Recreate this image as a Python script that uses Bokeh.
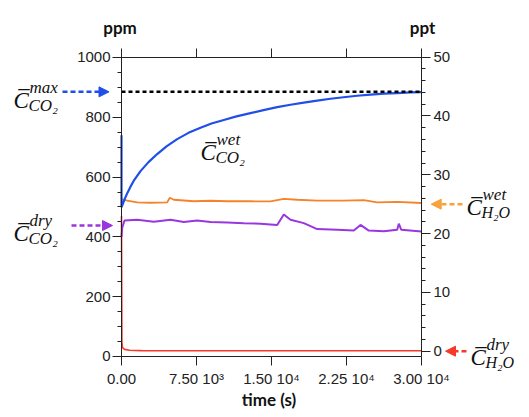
from bokeh.plotting import figure
from bokeh.models import (Range1d, LinearAxis, SingleIntervalTicker, FixedTicker,
                          Label, Arrow, NormalHead)
from bokeh.embed import file_html
from bokeh.resources import INLINE

# ---------------- data ----------------
x_ticks = [0, 7500, 15000, 22500, 30000]
x_tick_labels = ["0.00", "7.50 10³", "1.50 10⁴", "2.25 10⁴", "3.00 10⁴"]
ppm_bounds = (0, 1000)
ppt_bounds = (-0.9, 50)

# CO2 wet (ppm)
t_co2_wet = [0, 0, 300, 600, 900, 1230, 1900, 2700, 3570, 4500, 5570, 6700, 7900,
             9000, 10230, 11500, 12900, 14200, 15570, 16900, 18230, 19570, 20900,
             22200, 23570, 24900, 26230, 27570, 28900, 30000]
co2_wet = [740, 499, 525, 548, 568, 588, 620, 650, 677, 703, 727, 748, 765,
           779, 791, 803, 814, 824, 834, 842, 849, 856, 862,
           867, 872, 876, 879, 881, 883, 884]

# CO2 dry (ppm)
t_co2_dry = [0, 70, 300, 1570, 3230, 4900, 6230, 7570, 8900, 10570, 12230, 13900,
             15570, 16230, 16900, 18230, 19570, 21570, 23230, 23900, 24730, 26230,
             27570, 27730, 27970, 30000]
co2_dry = [400, 430, 455, 457, 451, 457, 450, 455, 450, 448, 446, 444,
           440, 475, 457, 446, 426, 424, 421, 440, 421, 419,
           424, 444, 424, 418]

# H2O wet (ppt)
t_h2o_wet = [0, 70, 570, 1570, 2900, 4570, 4830, 5230, 7230, 8900, 10570, 12900,
             14900, 16230, 17570, 19570, 22230, 24230, 25570, 27570, 30000]
h2o_wet = [25.9, 25.8, 25.6, 25.3, 25.24, 25.3, 26.1, 25.75, 25.5, 25.58, 25.5, 25.5,
           25.46, 25.9, 25.75, 25.6, 25.6, 25.7, 25.3, 25.4, 25.2]

# H2O dry (ppt)
t_h2o_dry = [0, 40, 100, 300, 800, 2000, 6000, 12000, 18000, 24000, 30000]
h2o_dry = [23.0, 1.5, 0.6, 0.3, 0.15, 0.1, 0.08, 0.08, 0.07, 0.07, 0.07]

# annotated levels
c_max_co2 = 885     # ppm
c_dry_co2 = 438     # ppm
c_wet_h2o = 25.0    # ppt
c_dry_h2o = 0.0     # ppt

BLUE = "#1f4fe8"
ORANGE = "#f5832b"
PURPLE = "#9a36e0"
RED = "#f53a2a"
AX = "#222222"

W, H = 521, 409
# the frame fills the whole canvas; axes sit at fixed data locations inside it
p = figure(width=W, height=H, x_range=Range1d(-12100, 40000), y_range=Range1d(-177.3, 1190.6),
           output_backend="svg", toolbar_location=None,
           min_border_left=0, min_border_right=0, min_border_top=0, min_border_bottom=0)
p.extra_y_ranges = {"ppt": Range1d(-9.92, 59.64)}
p.grid.visible = False
p.outline_line_color = None
p.background_fill_color = "white"


def style_axis(ax, standoff):
    ax.axis_line_color = AX
    ax.axis_line_width = 1
    ax.major_tick_line_color = AX
    ax.minor_tick_line_color = AX
    ax.major_tick_out = 9
    ax.major_tick_in = 0
    ax.minor_tick_out = 4
    ax.minor_tick_in = 0
    ax.major_label_text_font = "Liberation Sans"
    ax.major_label_text_font_size = "15px"
    ax.major_label_text_color = AX
    ax.major_label_standoff = standoff


# left axis
ly = p.yaxis[0]
ly.ticker = SingleIntervalTicker(interval=200, num_minor_ticks=4)
ly.fixed_location = x_ticks[0]
ly.bounds = ppm_bounds
style_axis(ly, 2)

# bottom axis
bx = p.xaxis[0]
bx.ticker = FixedTicker(ticks=x_ticks)
bx.major_label_overrides = {t: s for t, s in zip(x_ticks, x_tick_labels)}
bx.fixed_location = ppm_bounds[0]
bx.bounds = (x_ticks[0], x_ticks[-1])
style_axis(bx, 5)
bx.minor_tick_line_color = None

# right axis
ry = LinearAxis(y_range_name="ppt", ticker=SingleIntervalTicker(interval=10, num_minor_ticks=5),
                fixed_location=x_ticks[-1], bounds=ppt_bounds)
style_axis(ry, 3)
p.add_layout(ry, "right")

# top axis (ticks only)
tx = LinearAxis(ticker=FixedTicker(ticks=x_ticks), fixed_location=ppm_bounds[1],
                bounds=(x_ticks[0], x_ticks[-1]))
style_axis(tx, 0)
tx.major_label_text_color = None
tx.minor_tick_line_color = None
p.add_layout(tx, "above")

# series
p.line(t_h2o_dry, h2o_dry, y_range_name="ppt", line_color=RED, line_width=1.6)
p.line(t_h2o_wet, h2o_wet, y_range_name="ppt", line_color=ORANGE, line_width=1.8)
p.line(t_co2_dry, co2_dry, line_color=PURPLE, line_width=2)
p.line(t_co2_wet, co2_wet, line_color=BLUE, line_width=2.2)
p.line([x_ticks[0], x_ticks[-1]], [c_max_co2, c_max_co2], line_color="black",
       line_dash="4 3", line_width=2.5)

# arrows
def arrow(x0, x1, y, color, rng="default"):
    a = Arrow(x_start=x0, x_end=x1, y_start=y, y_end=y, line_color=color, line_width=2.5,
              line_dash="5 3",
              end=NormalHead(size=10, fill_color=color, line_color=color),
              y_range_name=rng)
    p.add_layout(a)

arrow(-5900, -1250, c_max_co2, BLUE)
arrow(-5000, -900, c_dry_co2, PURPLE)
arrow(34100, 30970, c_wet_h2o, "#f7a23a", "ppt")
arrow(34500, 32400, c_dry_h2o, RED, "ppt")

# math-like labels (screen px, origin at bottom-left of canvas)
MF = "Liberation Serif"

def mlabel(px, py, sup, sub, sub_size="17px"):
    x, y = px, H - py
    p.add_layout(Label(x=x, y=y, x_units="screen", y_units="screen", text="C\u0305",
                       text_font=MF, text_font_size="23px", text_font_style="italic",
                       text_baseline="alphabetic", text_color="#111111"))
    p.add_layout(Label(x=x + 16, y=y + 13, x_units="screen", y_units="screen", text=sup,
                       text_font=MF, text_font_size="17px", text_font_style="italic",
                       text_baseline="alphabetic", text_color="#111111"))
    p.add_layout(Label(x=x + 15, y=y - 5, x_units="screen", y_units="screen", text=sub,
                       text_font=MF, text_font_size=sub_size, text_font_style="italic",
                       text_baseline="alphabetic", text_color="#111111"))

mlabel(13, 99.5, "max", "CO₂")
mlabel(13, 233, "dry", "CO₂")
mlabel(466, 207, "wet", "H₂O", "16px")
mlabel(470, 357, "dry", "H₂O", "16px")
mlabel(200, 152, "wet", "CO₂")

# unit titles and x label
for txt, x, y in [("ppm", 119.5, 27), ("ppt", 422, 27), ("time (s)", 268.5, 399)]:
    p.add_layout(Label(x=x, y=H - y, x_units="screen", y_units="screen", text=txt,
                       text_font="Lato", text_font_size="17px", text_font_style="bold",
                       text_align="center", text_baseline="alphabetic", text_color="#111111"))

open("out.html", "w").write(file_html(p, INLINE))
